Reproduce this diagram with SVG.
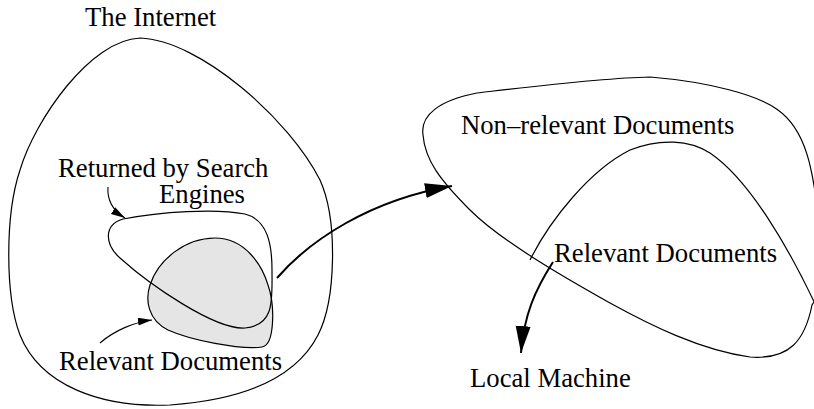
<svg xmlns="http://www.w3.org/2000/svg" width="814" height="409" viewBox="0 0 814 409">
<style>
text { font-family: "Liberation Serif", "Times New Roman", serif; font-size: 26.7px; fill: #000; }
.outline { fill: none; stroke: #000; stroke-width: 1.2; }
.gray { fill: #e5e5e5; stroke: #000; stroke-width: 1.2; }
.thin { fill: none; stroke: #000; stroke-width: 1.1; }
.thick { fill: none; stroke: #000; stroke-width: 2; }
</style>
<defs>
<marker id="bigHead" markerUnits="userSpaceOnUse" markerWidth="30" markerHeight="18" refX="27" refY="7.5" orient="auto">
<path d="M0,0 L27,7.5 L0,15 Z" fill="#000"/>
</marker>
<marker id="smallHead" markerUnits="userSpaceOnUse" markerWidth="16" markerHeight="10" refX="14" refY="4" orient="auto">
<path d="M0,0 L14,4 L0,8 Z" fill="#000"/>
</marker>
</defs>
<rect width="814" height="409" fill="#fff"/>
<g id="internet">
<path class="outline" d="M140,38 C200,40 290,120 320,180 C338,220 336,300 318,335 C295,380 240,400 170,405 C100,408 40,385 20,335 C5,295 5,215 20,170 C35,120 90,40 140,38 Z"/>
<text x="85" y="26">The Internet</text>
</g>
<g id="relevant-left">
<path class="gray" d="M215,238 C245,238 262,265 268,285 C275,305 275,345 262,347 C240,350 190,340 168,330 C148,320 145,300 150,285 C158,260 185,238 215,238 Z"/>
<text x="59" y="370">Relevant Documents</text>
</g>
<g id="returned">
<path class="outline" d="M123,219 C160,212 215,208 245,214 C268,220 272,245 272,270 C272,300 275,325 245,328 C215,330 150,285 120,258 C105,245 103,225 123,219 Z"/>
<text x="58" y="177">Returned by Search</text>
<text x="159" y="203">Engines</text>
</g>
<g id="collected">
<path class="outline" d="M818,215 C813,170 806,130 778,110 C758,95 710,82 650,77 C600,78 520,88 477,93 C440,100 420,115 423,135 C425,160 440,180 470,210 C500,240 560,275 610,303 C650,325 700,350 750,357 C790,360 805,340 812,305 L818,296"/>
<path class="outline" d="M530,260 C550,220 590,170 630,150 C660,138 690,140 710,153 C750,180 790,250 818,310"/>
<text x="461" y="134">Non–relevant Documents</text>
<text x="554" y="262">Relevant Documents</text>
</g>
<g id="local-machine">
<text x="470" y="387">Local Machine</text>
</g>
<g id="connectors">
<path class="thick" d="M277,278 C310,240 370,200 452,186" marker-end="url(#bigHead)"/>
<path class="thick" d="M553,262 C535,290 524,315 521,353" marker-end="url(#bigHead)"/>
<path class="thin" d="M108,187 C107,200 112,210 125,218" marker-end="url(#smallHead)"/>
<path class="thin" d="M100,343 C115,330 135,322 152,320" marker-end="url(#smallHead)"/>
</g>
</svg>
